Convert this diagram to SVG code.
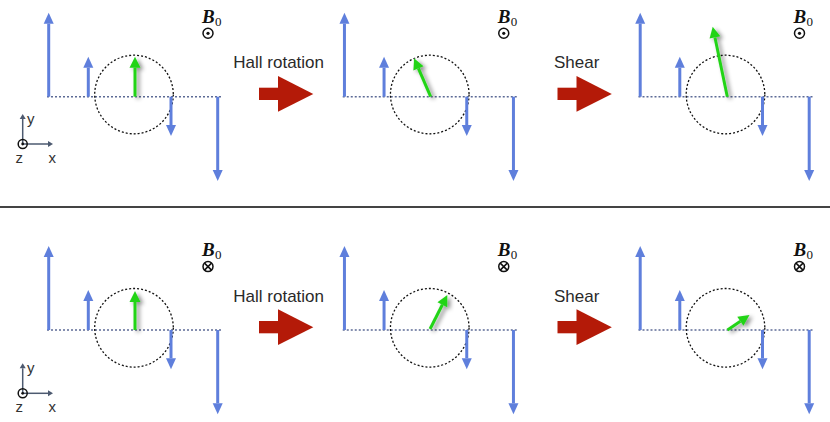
<svg xmlns="http://www.w3.org/2000/svg" width="830" height="422" viewBox="0 0 830 422">
<style>
.base{stroke:#5d6b96;stroke-width:1.4;stroke-dasharray:2 2;fill:none}
.circ{stroke:#111;stroke-width:1.3;stroke-dasharray:2 2;fill:none}
.blue{stroke:#5f7fdc;stroke-width:3;fill:none;marker-end:url(#hb)}
.green{stroke:#22d418;stroke-width:3;fill:none;marker-end:url(#hg);filter:url(#sh)}
.ax{stroke:#4d5a70;stroke-width:1.5;fill:none;marker-end:url(#ha)}
.lbl{font-family:"Liberation Sans",Arial,sans-serif;font-size:17px;fill:#2a2a2a}
.axl{font-family:"Liberation Sans",Arial,sans-serif;font-size:15px;fill:#333}
.bb{font-family:"Liberation Serif","DejaVu Serif",serif;font-weight:bold;font-style:italic;font-size:19px;fill:#111}
.b0{font-family:"Liberation Serif","DejaVu Serif",serif;font-size:13px;fill:#111}
.sym{stroke:#111;stroke-width:1.5;fill:none}
.red{fill:#b41a08}
</style>
<defs>
<marker id="hb" markerUnits="userSpaceOnUse" orient="auto" viewBox="0 -6 12 12" refX="0" refY="0" markerWidth="12" markerHeight="12" overflow="visible"><path d="M0,-5 L11,0 L0,5 z" fill="#5f7fdc"/></marker>
<marker id="hg" markerUnits="userSpaceOnUse" orient="auto" viewBox="0 -6 12 12" refX="0" refY="0" markerWidth="12" markerHeight="12" overflow="visible"><path d="M0,-5.5 L11,0 L0,5.5 z" fill="#22d418"/></marker>
<marker id="ha" markerUnits="userSpaceOnUse" orient="auto" viewBox="0 -4 6 8" refX="0" refY="0" markerWidth="6" markerHeight="8" overflow="visible"><path d="M0,-3 L5,0 L0,3 z" fill="#4d5a70"/></marker>
<filter id="sh" filterUnits="userSpaceOnUse" x="-100" y="-100" width="1100" height="700"><feDropShadow dx="3" dy="2" stdDeviation="2" flood-color="#000" flood-opacity="0.45"/></filter>
<g id="bars">
<line class="base" x1="47" y1="96.7" x2="222" y2="96.7"/>
<circle class="circ" cx="134" cy="94.5" r="39.3"/>
<line class="blue" x1="48.7" y1="96.7" x2="48.7" y2="23.7"/>
<line class="blue" x1="88.3" y1="96.7" x2="88.3" y2="67.7"/>
<line class="blue" x1="171" y1="96.7" x2="171" y2="125"/>
<line class="blue" x1="217.7" y1="96.7" x2="217.7" y2="170"/>
<text class="bb" x="202" y="22.7" fill="#111">B</text><text class="b0" x="215" y="26" fill="#111">0</text>
</g>
<g id="odot"><circle class="sym" cx="0" cy="0" r="5"/><circle cx="0" cy="0" r="1.6" fill="#111"/></g>
<g id="otimes"><circle class="sym" cx="0" cy="0" r="5"/><path class="sym" d="M-3.5,-3.5 L3.5,3.5 M3.5,-3.5 L-3.5,3.5"/></g>
<g id="bigarrow"><rect class="red" x="259" y="87.7" width="20" height="12.3"/><polygon class="red" points="278,76 313.3,94 278,111.7"/></g>
</defs>

<g id="separator"><line x1="0" y1="207" x2="830" y2="207" stroke="#444" stroke-width="2"/></g>

<g id="axes-top">
<line class="ax" x1="22.7" y1="144" x2="22.7" y2="119"/>
<line class="ax" x1="22.7" y1="144" x2="48" y2="144"/>
<circle class="sym" cx="22.7" cy="144" r="4.5" stroke-width="1.4"/><circle cx="22.7" cy="144" r="1.4" fill="#111"/>
<text class="axl" x="27" y="124">y</text>
<text class="axl" x="15.5" y="163">z</text>
<text class="axl" x="48.5" y="163">x</text>
</g>
<g id="axes-bottom">
<line class="ax" x1="22.7" y1="393.3" x2="22.7" y2="368.3"/>
<line class="ax" x1="22.7" y1="393.3" x2="48" y2="393.3"/>
<circle class="sym" cx="22.7" cy="393.3" r="4.5" stroke-width="1.4"/><circle cx="22.7" cy="393.3" r="1.4" fill="#111"/>
<text class="axl" x="27" y="373.3">y</text>
<text class="axl" x="15.5" y="412">z</text>
<text class="axl" x="48.5" y="412">x</text>
</g>

<g id="panel-top-1">
<use href="#bars"/><use href="#odot" x="208" y="33.3"/>
<line class="green" x1="135" y1="96.7" x2="135" y2="67.7"/>
</g>
<g id="panel-top-2" transform="translate(295.75,0)">
<use href="#bars"/><use href="#odot" x="208" y="33.3"/>
<line class="green" x1="134.9" y1="96.7" x2="122.67" y2="68.4"/>
</g>
<g id="panel-top-3" transform="translate(591.5,0)">
<use href="#bars"/><use href="#odot" x="208" y="33.3"/>
<line class="green" x1="135.8" y1="96.7" x2="123.45" y2="37.47"/>
</g>
<g id="panel-bottom-1" transform="translate(0,233.3)">
<use href="#bars"/><use href="#otimes" x="208" y="33.3"/>
<line class="green" x1="135" y1="96.7" x2="135" y2="68.7"/>
</g>
<g id="panel-bottom-2" transform="translate(295.75,233.3)">
<use href="#bars"/><use href="#otimes" x="208" y="33.3"/>
<line class="green" x1="134.3" y1="95.7" x2="146.6" y2="71.5"/>
</g>
<g id="panel-bottom-3" transform="translate(591.5,233.3)">
<use href="#bars"/><use href="#otimes" x="208" y="33.3"/>
<line class="green" x1="136" y1="96.7" x2="148.9" y2="87.9"/>
</g>

<g id="step-top-1"><text class="lbl" x="233.3" y="68.3">Hall rotation</text><use href="#bigarrow"/></g>
<g id="step-top-2"><text class="lbl" x="554" y="68.3">Shear</text><use href="#bigarrow" x="298.5"/></g>
<g id="step-bottom-1"><text class="lbl" x="233.3" y="301.6">Hall rotation</text><use href="#bigarrow" y="233.3"/></g>
<g id="step-bottom-2"><text class="lbl" x="554" y="301.6">Shear</text><use href="#bigarrow" x="298.5" y="233.3"/></g>
</svg>
